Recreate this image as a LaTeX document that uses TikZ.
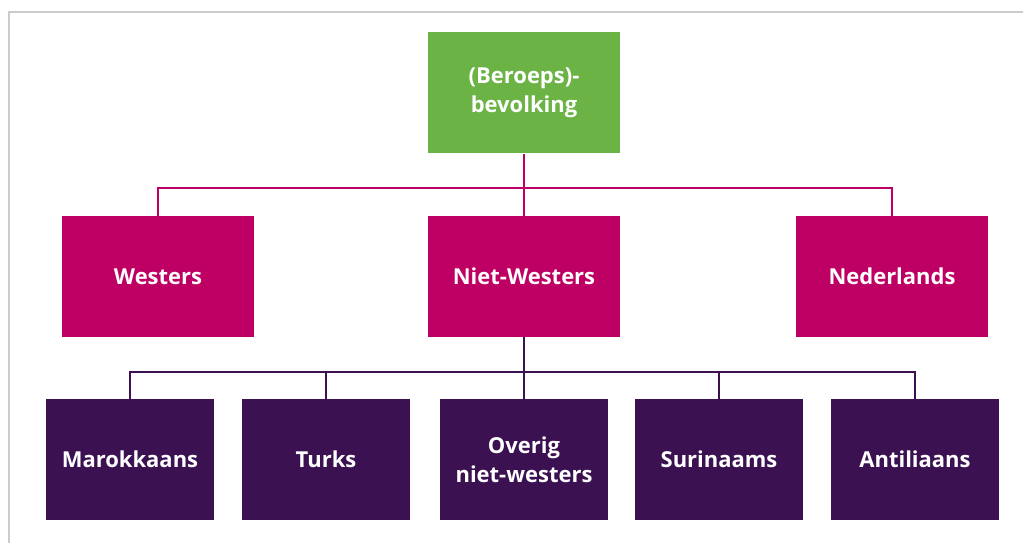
\documentclass[tikz,border=0pt]{standalone}
\usepackage{fontspec}
\setmainfont{Open Sans}
\usepackage{xcolor}
\usepackage{tikz}
\usetikzlibrary{positioning}
\definecolor{grn}{HTML}{6AB344}
\definecolor{mag}{HTML}{BE0064}
\definecolor{prp}{HTML}{3B1152}
\definecolor{frm}{HTML}{CCCCCC}
\tikzset{box/.style={rectangle,text=white,font=\fontsize{12.5}{16.5}\selectfont\bfseries,align=center,inner sep=0pt,minimum width=3.84cm,minimum height=2.42cm},
sbox/.style={box,fill=prp,minimum width=3.36cm},
mline/.style={draw=mag,line width=1.1pt},
pline/.style={draw=prp,line width=1.1pt}}

\begin{document}
\begin{tikzpicture}[>=stealth]
    \useasboundingbox (0,0) rectangle (20.46,10.86);
    \draw [frm,line width=0.8pt] (0.18,0) -- (0.18,10.62) -- (20.46,10.62);

    \node[box,fill=grn] (top) at (10.48,9.00) {(Beroeps)-\\bevolking};
    \node[box,fill=mag] (westers) at (3.16,5.33) {Westers};
    \node[box,fill=mag] (nietw) at (10.48,5.33) {Niet-Westers};
    \node[box,fill=mag] (nederl) at (17.84,5.33) {Nederlands};
    \node[sbox] (marok) at (2.60,1.67) {Marokkaans};
    \node[sbox] (turks) at (6.52,1.67) {Turks};
    \node[sbox] (overig) at (10.48,1.67) {Overig\\niet-westers};
    \node[sbox] (surin) at (14.38,1.67) {Surinaams};
    \node[sbox] (antil) at (18.30,1.67) {Antiliaans};
    \coordinate (mbus) at (10.48,7.10);
    \coordinate (pbus) at (10.48,3.42);

    \draw [mline] (top) -- (mbus);
    \draw [mline] (westers.north) |- (mbus) -| (nederl.north);
    \draw [mline] (mbus) -- (nietw.north);
    \draw [pline] (nietw.south) -- (pbus);
    \draw [pline] (marok.north) |- (pbus) -| (antil.north);
    \foreach \n in {turks,overig,surin}
        \draw [pline] (\n.north) -- (\n.north |- pbus);
\end{tikzpicture}
\end{document}
